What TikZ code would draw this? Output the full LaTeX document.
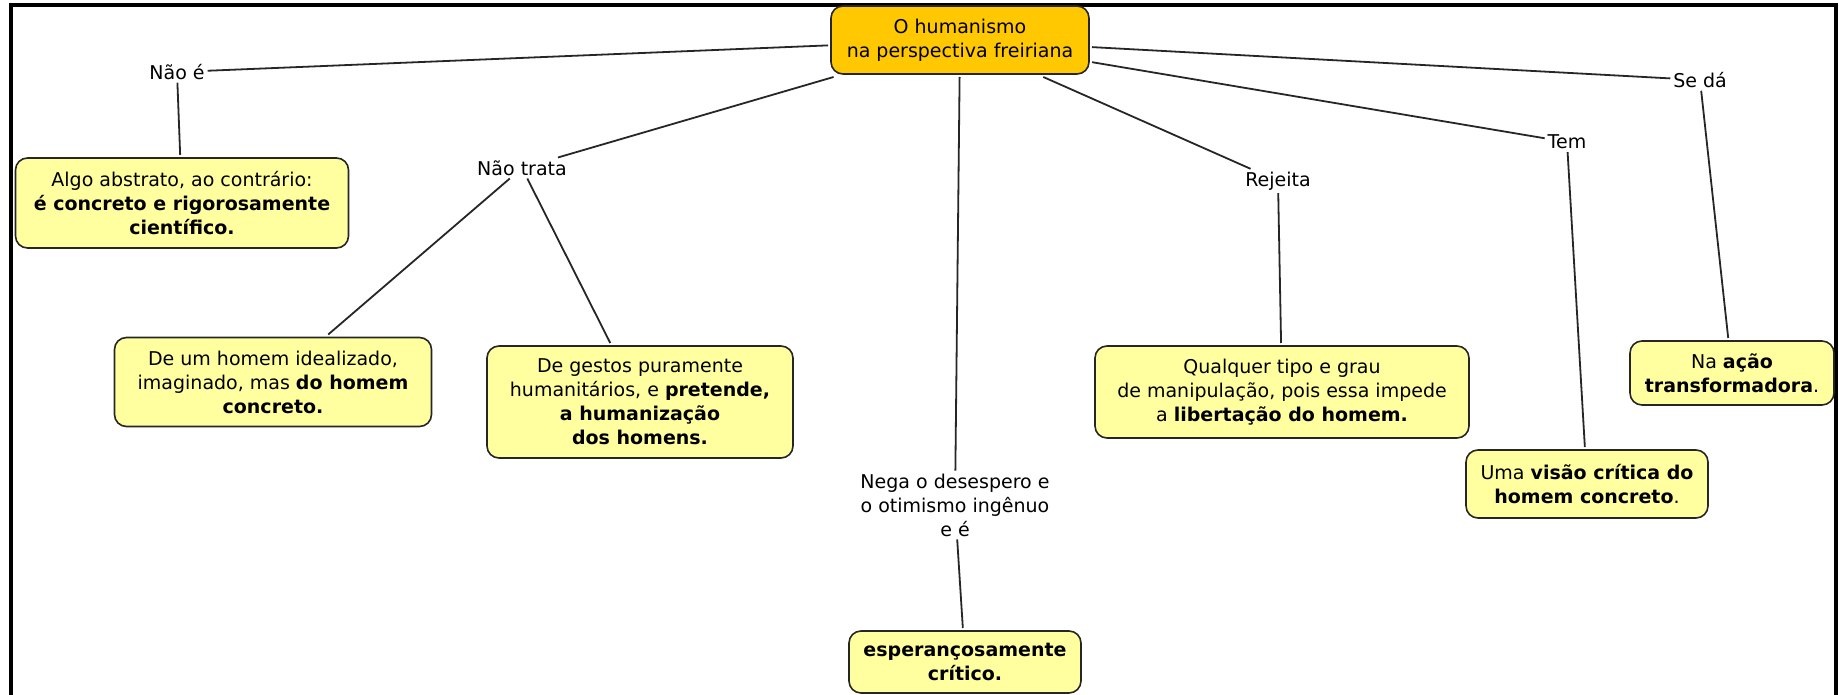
\documentclass[tikz,border=0pt]{standalone}
\usepackage{fontspec}
\setmainfont{DejaVu Sans}
\definecolor{gold}{RGB}{255,200,0}
\definecolor{paleyellow}{RGB}{255,255,160}

\begin{document}
\begin{tikzpicture}[x=1pt, y=-1pt,
	concept/.style={draw=black!85, line width=1.6pt, rounded corners=12pt, fill=paleyellow,
		align=center, font=\fontsize{19}{24}\selectfont, inner sep=0pt, outer sep=3pt},
	phrase/.style={align=center, font=\fontsize{19}{24}\selectfont, inner sep=1pt, outer sep=2pt},
	link/.style={line width=1.8pt, black!85}]

	\useasboundingbox (0,0) rectangle (1839,695);
	\draw[line width=3.5pt] (11,695) -- (11,5) -- (1836,5) -- (1836,695);

	\node[concept, fill=gold, minimum width=258pt, minimum height=68pt] (root) at (960,40) {O humanismo\\na perspectiva freiriana};

	\node[phrase] (naoe) at (177,72) {Não é};
	\node[phrase] (naotrata) at (522,168) {Não trata};
	\node[phrase] (nega) at (955,505) {Nega o desespero e\\o otimismo ingênuo\\e é};
	\node[phrase] (rejeita) at (1278,181) {Rejeita};
	\node[phrase] (tem) at (1567,142) {Tem};
	\node[phrase] (seda) at (1700,80) {Se dá};

	\node[concept, minimum width=333pt, minimum height=90pt] (algo) at (182,203) {Algo abstrato, ao contrário:\\\textbf{é concreto e rigorosamente}\\\textbf{científico.}};
	\node[concept, minimum width=317pt, minimum height=89pt] (idealizado) at (273,382) {De um homem idealizado,\\imaginado, mas \textbf{do homem}\\\textbf{concreto.}};
	\node[concept, minimum width=306pt, minimum height=112pt] (gestos) at (640,402) {De gestos puramente\\humanitários, e \textbf{pretende,}\\\textbf{a humanização}\\\textbf{dos homens.}};
	\node[concept, minimum width=232pt, minimum height=62pt] (esperanca) at (965,662) {\textbf{esperançosamente}\\\textbf{crítico.}};
	\node[concept, minimum width=374pt, minimum height=92pt] (manipulacao) at (1282,392) {Qualquer tipo e grau\\de manipulação, pois essa impede\\a \textbf{libertação do homem.}};
	\node[concept, minimum width=242pt, minimum height=68pt] (visao) at (1587,484) {Uma \textbf{visão crítica do}\\\textbf{homem concreto}.};
	\node[concept, minimum width=204pt, minimum height=64pt] (acao) at (1732,373) {Na \textbf{ação}\\\textbf{transformadora}.};

	\draw[link] (root) -- (naoe);
	\draw[link] (root) -- (naotrata);
	\draw[link] (root) -- (nega);
	\draw[link] (root) -- (rejeita);
	\draw[link] (root) -- (tem);
	\draw[link] (root) -- (seda);

	\draw[link] (naoe) -- (algo);
	\draw[link] (naotrata) -- (idealizado);
	\draw[link] (naotrata) -- (gestos);
	\draw[link] (nega) -- (esperanca);
	\draw[link] (rejeita) -- (manipulacao);
	\draw[link] (tem) -- (visao);
	\draw[link] (seda) -- (acao);
\end{tikzpicture}
\end{document}
